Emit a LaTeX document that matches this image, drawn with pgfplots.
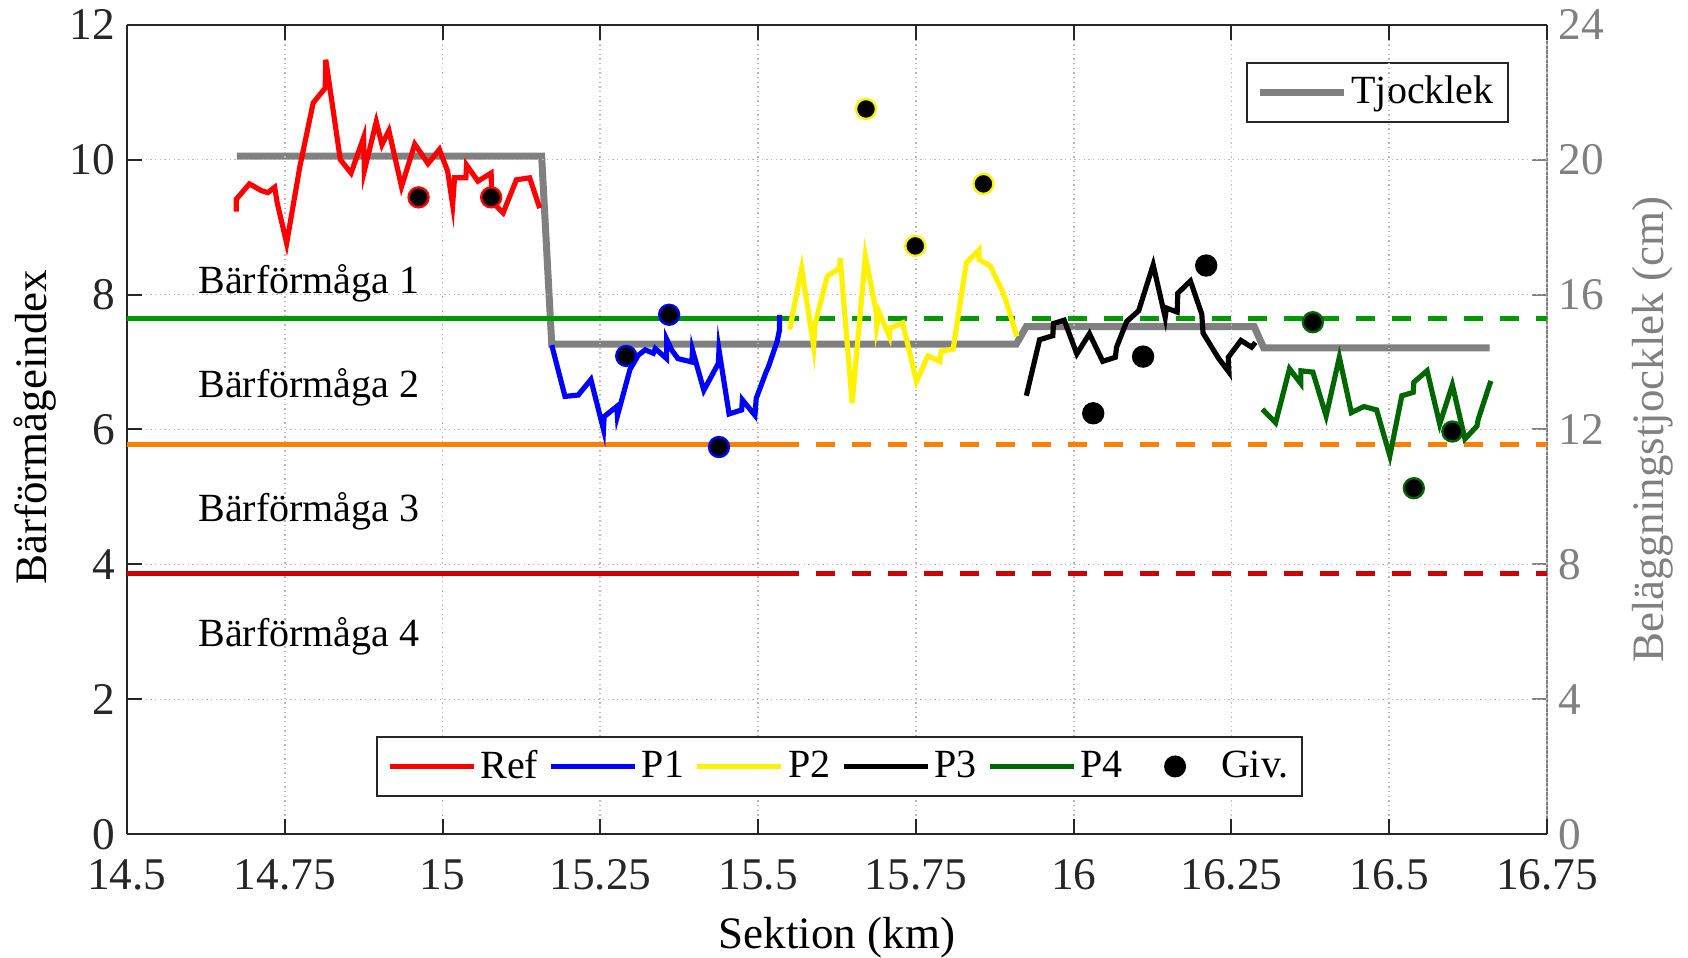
\documentclass[border=0pt]{standalone}
\usepackage{fontspec}
\setmainfont{Liberation Serif}
\usepackage{pgfplots}
\pgfplotsset{compat=1.18}
\definecolor{thk}{gray}{0.5}
\definecolor{axc}{gray}{0.15}
\definecolor{gP4}{rgb}{0,0.4,0}
\definecolor{gLine}{rgb}{0,0.6,0}
\definecolor{oLine}{rgb}{1,0.5,0}
\definecolor{rLine}{rgb}{0.8,0,0}
\pgfplotsset{
  longleg/.style={legend image code/.code={\draw[mark repeat=2,mark phase=2,##1] plot coordinates {(0pt,0pt) (12.6pt,0pt) (25.2pt,0pt)};}},
  givleg/.style={legend image code/.code={\path[draw=none,fill=none] (0pt,0pt) (25.2pt,0pt); \draw[mark repeat=2,mark phase=2,##1] plot coordinates {(0pt,0pt) (12.6pt,0pt) (25.2pt,0pt)};}},
  base/.style={
    width=426pt, height=242.9pt, scale only axis,
    xmin=14.5, xmax=16.75,
    /pgf/number format/assume math mode=true,
    tick label style={font=\rmfamily\fontsize{13.6}{16}\selectfont},
    label style={font=\rmfamily\fontsize{13.5}{16}\selectfont},
    tick align=inside, major tick length=4.5pt,
    legend style={font=\rmfamily\fontsize{12}{14}\selectfont, nodes={inner xsep=1.2pt}},
    longleg,
  },
}
\begin{document}
\begin{tikzpicture}
% right axis: pavement thickness
\begin{axis}[base,
  axis x line=none, axis y line*=right,
  ymin=0, ymax=24, ytick={0,4,...,24},
  y axis line style={thk, line width=0.6pt},
  ytick style={thk, line width=0.6pt},
  yticklabel style={thk},
  ylabel={Beläggningstjocklek (cm)},
  ylabel style={thk, at={(axis description cs:1.0748,0.5)}, anchor=center},
  legend style={at={(0.973,0.954)}, anchor=north east, draw=axc, line width=0.6pt,
    inner xsep=3pt},
]
\addplot[thk, line width=2.1pt] coordinates {
(14.674,20.1) (15.157,20.1) (15.173,14.53) (15.909,14.53) (15.925,15.05) (16.286,15.05) (16.301,14.42) (16.659,14.42)};
\addlegendentry{Tjocklek}
\end{axis}
% left axis: bearing capacity index
\begin{axis}[base, name=main,
  axis y line*=left,
  axis line style={axc, line width=0.6pt},
  tick style={axc, line width=0.6pt},
  ticklabel style={axc},
  xticklabel style={yshift=-4pt},
  ymin=0, ymax=12, ytick={0,2,...,12},
  xtick={14.5,14.75,15,15.25,15.5,15.75,16,16.25,16.5,16.75},
  xticklabels={14.5,14.75,15,15.25,15.5,15.75,16,16.25,16.5,16.75},
  grid=major, grid style={densely dotted, gray!55, line width=0.5pt},
  xlabel={Sektion (km)}, ylabel={Bärförmågeindex},
  xlabel style={at={(axis description cs:0.5,-0.128)}, anchor=center},
  ylabel style={at={(axis description cs:-0.0646,0.503)}, anchor=center},
  legend columns=-1,
  legend style={at={(0.502,0.0838)}, anchor=center, draw=axc, line width=0.6pt,
    inner xsep=3pt,
    /tikz/every even column/.append style={column sep=2pt}},
]
% thresholds
\addplot[gLine, line width=1.5pt, forget plot] coordinates {(14.5,7.64) (15.535,7.64)};
\addplot[gLine, line width=1.5pt, dash pattern=on 5.5pt off 5.3pt, forget plot] coordinates {(15.535,7.64) (16.75,7.64)};
\addplot[oLine, line width=1.5pt, forget plot] coordinates {(14.5,5.78) (15.535,5.78)};
\addplot[oLine, line width=1.5pt, dash pattern=on 5.5pt off 5.3pt, forget plot] coordinates {(15.535,5.78) (16.75,5.78)};
\addplot[rLine, line width=1.5pt, forget plot] coordinates {(14.5,3.86) (15.535,3.86)};
\addplot[rLine, line width=1.5pt, dash pattern=on 5.5pt off 5.3pt, forget plot] coordinates {(15.535,3.86) (16.75,3.86)};
% series
\addplot[red, line width=1.55pt] coordinates {
(14.673,9.23) (14.673,9.41) (14.694,9.64) (14.713,9.54) (14.723,9.51) (14.734,9.59) (14.738,9.36) (14.753,8.76) (14.774,9.90) (14.795,10.84) (14.814,11.06) (14.815,11.48) (14.838,10.00) (14.855,9.80) (14.875,10.33) (14.876,9.83) (14.895,10.56) (14.904,10.22) (14.915,10.43) (14.935,9.60) (14.956,10.23) (14.977,9.94) (14.995,10.15) (15.008,9.83) (15.016,9.33) (15.019,9.73) (15.037,9.73) (15.038,9.92) (15.056,9.68) (15.077,9.80) (15.078,9.38) (15.096,9.21) (15.117,9.70) (15.138,9.73) (15.154,9.28)};
\addlegendentry{Ref}
\addplot[blue, line width=1.55pt] coordinates {
(15.173,7.25) (15.194,6.49) (15.215,6.51) (15.235,6.74) (15.255,6.00) (15.256,6.19) (15.276,6.34) (15.277,6.20) (15.297,6.89) (15.310,7.10) (15.321,7.18) (15.334,7.13) (15.337,7.20) (15.355,7.05) (15.355,7.34) (15.363,7.18) (15.373,7.05) (15.395,7.00) (15.396,7.18) (15.414,6.58) (15.437,6.98) (15.438,7.18) (15.454,6.23) (15.474,6.29) (15.475,6.44) (15.495,6.21) (15.497,6.46) (15.513,6.86) (15.516,6.92) (15.530,7.30) (15.534,7.48) (15.534,7.70)};
\addlegendentry{P1}
\addplot[yellow, line width=1.55pt] coordinates {
(15.550,7.48) (15.569,8.39) (15.588,7.23) (15.590,7.55) (15.609,8.25) (15.611,8.28) (15.629,8.39) (15.630,8.54) (15.649,6.39) (15.670,8.57) (15.687,7.75) (15.688,7.53) (15.692,7.73) (15.708,7.38) (15.709,7.50) (15.729,7.58) (15.751,6.71) (15.769,7.09) (15.788,7.01) (15.790,7.16) (15.809,7.19) (15.830,8.47) (15.850,8.66) (15.850,8.52) (15.868,8.42) (15.887,8.05) (15.893,7.90) (15.910,7.38)};
\addlegendentry{P2}
\addplot[black, line width=1.55pt] coordinates {
(15.925,6.50) (15.946,7.33) (15.967,7.39) (15.968,7.57) (15.985,7.62) (16.005,7.12) (16.025,7.42) (16.046,7.01) (16.066,7.07) (16.068,7.22) (16.084,7.60) (16.103,7.76) (16.126,8.44) (16.145,7.66) (16.147,7.80) (16.164,7.74) (16.165,8.02) (16.185,8.20) (16.203,7.71) (16.205,7.43) (16.222,7.17) (16.230,7.05) (16.246,6.85) (16.245,7.07) (16.265,7.32) (16.282,7.22) (16.288,7.29)};
\addlegendentry{P3}
\addplot[gP4, line width=1.55pt] coordinates {
(16.299,6.30) (16.320,6.10) (16.342,6.90) (16.360,6.68) (16.360,6.87) (16.379,6.85) (16.400,6.20) (16.421,7.07) (16.440,6.25) (16.460,6.34) (16.480,6.29) (16.501,5.61) (16.520,6.50) (16.538,6.55) (16.539,6.70) (16.560,6.87) (16.580,6.08) (16.600,6.66) (16.620,5.86) (16.639,6.05) (16.641,6.15) (16.661,6.72)};
\addlegendentry{P4}
% measured points
\addplot[only marks, mark=*, mark size=3pt, mark options={draw=red, fill=black, line width=0.7pt}, forget plot] coordinates {(14.962,9.44) (15.077,9.44)};
\addplot[only marks, mark=*, mark size=3pt, mark options={draw=blue, fill=black, line width=0.7pt}, forget plot] coordinates {(15.291,7.09) (15.359,7.70) (15.438,5.74)};
\addplot[only marks, mark=*, mark size=3pt, mark options={draw=yellow, fill=black, line width=0.7pt}, forget plot] coordinates {(15.671,10.75) (15.749,8.72) (15.857,9.64)};
\addplot[only marks, mark=*, mark size=3pt, mark options={draw=black, fill=black, line width=0.7pt}, forget plot] coordinates {(16.031,6.24) (16.110,7.08) (16.210,8.43)};
\addplot[only marks, mark=*, mark size=3pt, mark options={draw=gP4, fill=black, line width=0.7pt}, forget plot] coordinates {(16.379,7.59) (16.539,5.13) (16.600,5.97)};
\addlegendimage{only marks, mark=*, mark size=3pt, black, givleg}
\addlegendentry{Giv.}
% class labels
\node[anchor=base west, inner sep=0pt, font=\rmfamily\fontsize{12}{14}\selectfont] at (axis cs:14.612,8.02) {Bärförmåga 1};
\node[anchor=base west, inner sep=0pt, font=\rmfamily\fontsize{12}{14}\selectfont] at (axis cs:14.612,6.47) {Bärförmåga 2};
\node[anchor=base west, inner sep=0pt, font=\rmfamily\fontsize{12}{14}\selectfont] at (axis cs:14.612,4.64) {Bärförmåga 3};
\node[anchor=base west, inner sep=0pt, font=\rmfamily\fontsize{12}{14}\selectfont] at (axis cs:14.612,2.79) {Bärförmåga 4};
\end{axis}
\pgfresetboundingbox
\path[use as bounding box] ([xshift=-38.1pt,yshift=-37.1pt]main.south west) rectangle ([xshift=42.3pt,yshift=7.4pt]main.north east);
\end{tikzpicture}
\end{document}
